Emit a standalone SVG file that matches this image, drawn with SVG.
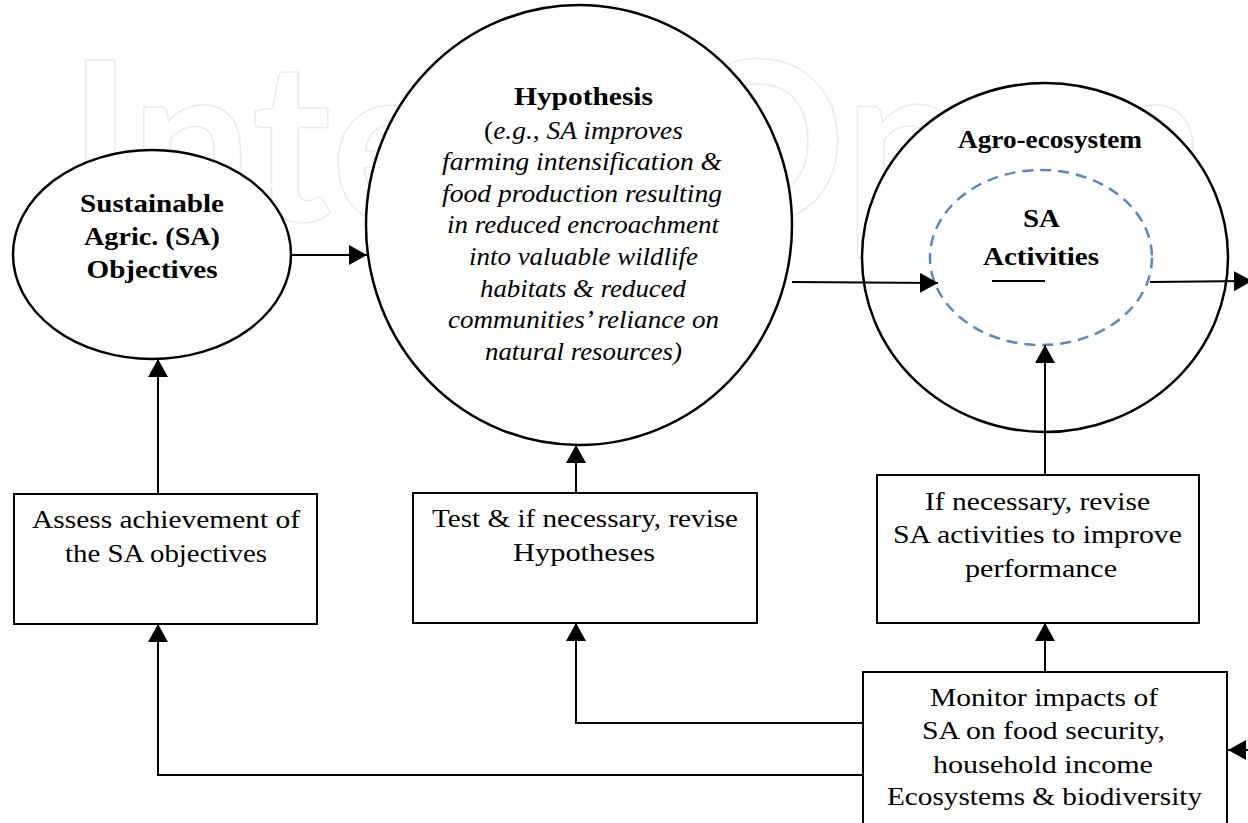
<svg xmlns="http://www.w3.org/2000/svg" width="1248" height="823" viewBox="0 0 1248 823">
<style>
.node{fill:#fff;stroke:#000;stroke-width:2.5}
.box{fill:#fff;stroke:#000;stroke-width:2}
.dash{fill:none;stroke:#5a86c1;stroke-width:2.5;stroke-dasharray:11 7}
.con{fill:none;stroke:#000;stroke-width:2}
.t{font-family:"Liberation Serif","Times New Roman",serif;font-size:26px;fill:#000;text-anchor:middle}
.b{font-family:"Liberation Serif","Times New Roman",serif;font-size:25px;font-weight:bold;fill:#000;text-anchor:middle}
.i{font-family:"Liberation Serif","Times New Roman",serif;font-size:25px;font-style:italic;fill:#000;text-anchor:middle}
.wm{font-family:Lato,"Open Sans",sans-serif;font-size:222px;font-weight:bold;fill:none;stroke:#ebebeb;stroke-width:1.5}
</style>
<defs>
<marker id="arr" markerUnits="userSpaceOnUse" markerWidth="20" markerHeight="20" refX="18" refY="10" orient="auto">
<path d="M0,0 L18,10 L0,20 z" fill="#000"/>
</marker>
</defs>
<rect width="1248" height="823" fill="#fff"/>
<text class="wm" x="68" y="221" textLength="1137" lengthAdjust="spacingAndGlyphs">IntechOpen</text>

<g id="objectives">
<ellipse class="node" cx="152" cy="254.5" rx="139" ry="104.5"/>
<text class="b" x="152" y="212" textLength="144" lengthAdjust="spacingAndGlyphs">Sustainable</text>
<text class="b" x="152" y="245" textLength="136" lengthAdjust="spacingAndGlyphs">Agric. (SA)</text>
<text class="b" x="152" y="278" textLength="131" lengthAdjust="spacingAndGlyphs">Objectives</text>
</g>

<g id="hypothesis">
<ellipse class="node" cx="579" cy="225" rx="213" ry="220"/>
<text class="b" x="583.5" y="105" textLength="139" lengthAdjust="spacingAndGlyphs">Hypothesis</text>
<text class="i" x="583.5" y="139" textLength="199" lengthAdjust="spacingAndGlyphs"><tspan font-style="normal">(</tspan>e.g., SA improves</text>
<text class="i" x="582" y="170" textLength="280" lengthAdjust="spacingAndGlyphs">farming intensification &amp;</text>
<text class="i" x="582" y="202" textLength="280" lengthAdjust="spacingAndGlyphs">food production resulting</text>
<text class="i" x="583" y="233" textLength="272" lengthAdjust="spacingAndGlyphs">in reduced encroachment</text>
<text class="i" x="583.5" y="265" textLength="229" lengthAdjust="spacingAndGlyphs">into valuable wildlife</text>
<text class="i" x="583" y="297" textLength="206" lengthAdjust="spacingAndGlyphs">habitats &amp; reduced</text>
<text class="i" x="583.5" y="328" textLength="271" lengthAdjust="spacingAndGlyphs">communities’ reliance on</text>
<text class="i" x="583.5" y="360" textLength="197" lengthAdjust="spacingAndGlyphs">natural resources)</text>
</g>

<g id="agro-ecosystem">
<ellipse class="node" cx="1045" cy="257.5" rx="183" ry="174.5"/>
<text class="b" x="1050" y="148" font-size="22" textLength="184" lengthAdjust="spacingAndGlyphs">Agro-ecosystem</text>
</g>

<g id="sa-activities">
<ellipse class="dash" cx="1041" cy="257.5" rx="111" ry="87.5"/>
<text class="b" x="1041.5" y="227" textLength="37" lengthAdjust="spacingAndGlyphs">SA</text>
<text class="b" x="1041" y="265" textLength="116" lengthAdjust="spacingAndGlyphs">Activities</text>
<line x1="992" y1="281" x2="1045" y2="281" stroke="#000" stroke-width="2"/>
</g>

<g id="assess">
<rect class="box" x="14" y="494" width="303" height="130"/>
<text class="t" x="166" y="528" textLength="268" lengthAdjust="spacingAndGlyphs">Assess achievement of</text>
<text class="t" x="166" y="562" textLength="202" lengthAdjust="spacingAndGlyphs">the SA objectives</text>
</g>

<g id="test">
<rect class="box" x="413" y="493" width="344" height="130"/>
<text class="t" x="585" y="527" textLength="306" lengthAdjust="spacingAndGlyphs">Test &amp; if necessary, revise</text>
<text class="t" x="584" y="561" textLength="142" lengthAdjust="spacingAndGlyphs">Hypotheses</text>
</g>

<g id="revise">
<rect class="box" x="877" y="475" width="322" height="148"/>
<text class="t" x="1037.5" y="510" textLength="225" lengthAdjust="spacingAndGlyphs">If necessary, revise</text>
<text class="t" x="1037.5" y="543" textLength="289" lengthAdjust="spacingAndGlyphs">SA activities to improve</text>
<text class="t" x="1041" y="577" textLength="152" lengthAdjust="spacingAndGlyphs">performance</text>
</g>

<g id="monitor">
<rect class="box" x="863" y="672" width="364" height="170"/>
<text class="t" x="1044" y="706" textLength="228" lengthAdjust="spacingAndGlyphs">Monitor impacts of</text>
<text class="t" x="1043.5" y="739" textLength="243" lengthAdjust="spacingAndGlyphs">SA on food security,</text>
<text class="t" x="1043" y="773" textLength="220" lengthAdjust="spacingAndGlyphs">household income</text>
<text class="t" x="1044.5" y="805" textLength="315" lengthAdjust="spacingAndGlyphs">Ecosystems &amp; biodiversity</text>
</g>

<g id="connectors">
<line class="con" x1="291" y1="255" x2="367" y2="255" marker-end="url(#arr)"/>
<line class="con" x1="792" y1="282" x2="938" y2="283" marker-end="url(#arr)"/>
<line class="con" x1="1150" y1="282" x2="1252" y2="281" marker-end="url(#arr)"/>
<line class="con" x1="1045" y1="475" x2="1045" y2="345" marker-end="url(#arr)"/>
<line class="con" x1="1045" y1="672" x2="1045" y2="623" marker-end="url(#arr)"/>
<line class="con" x1="158" y1="494" x2="158" y2="359" marker-end="url(#arr)"/>
<line class="con" x1="576" y1="493" x2="576" y2="445" marker-end="url(#arr)"/>
<polyline class="con" points="863,723 576,723 576,623" marker-end="url(#arr)"/>
<polyline class="con" points="863,775 158,775 158,624" marker-end="url(#arr)"/>
<line class="con" x1="1265" y1="750" x2="1228" y2="750" marker-end="url(#arr)"/>
</g>
</svg>
